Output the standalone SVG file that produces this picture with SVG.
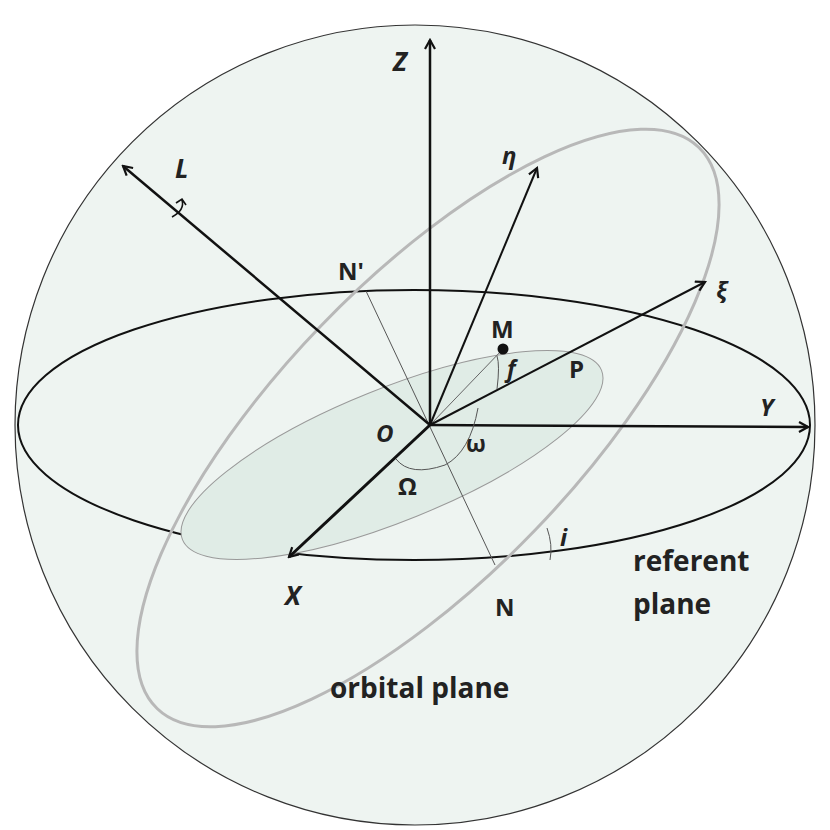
<svg xmlns="http://www.w3.org/2000/svg" width="830" height="830" viewBox="0 0 830 830">
<defs>
<marker id="ah" markerWidth="12" markerHeight="12" refX="10" refY="6" orient="auto" markerUnits="userSpaceOnUse"><path d="M1,1 L10,6 L1,11" fill="none" stroke="#111" stroke-width="2.2"/></marker>
</defs>
<style>
text{font-family:"Open Sans","DejaVu Sans",sans-serif;fill:#222;font-weight:bold}
.it{font-style:italic}
.ax{stroke:#111;fill:none;marker-end:url(#ah)}
.th{stroke:#555;stroke-width:1;fill:none}
</style>
<rect width="830" height="830" fill="#fff"/>
<g id="sphere"><circle cx="415" cy="425" r="400" fill="#eef4f1" stroke="#333" stroke-width="1.2"/></g>
<g id="referent-plane"><ellipse cx="414" cy="425" rx="396" ry="135" fill="none" stroke="#111" stroke-width="2"/></g>
<g id="orbital-plane"><ellipse cx="428" cy="428" rx="390" ry="148" transform="rotate(-46 428 428)" fill="none" stroke="#b8b8b8" stroke-width="3"/></g>
<g id="orbit"><ellipse cx="392" cy="455" rx="226" ry="66" transform="rotate(-22 392 455)" fill="#e0ece6" stroke="#999" stroke-width="1"/></g>
<g id="connectors">
<line class="th" x1="366" y1="291" x2="495" y2="565"/>
<line x1="430" y1="425" x2="503" y2="349" stroke="#666" stroke-width="1"/>
<line class="ax" x1="430" y1="425" x2="430" y2="40" stroke-width="2.5"/>
<line class="ax" x1="430" y1="425" x2="808" y2="427" stroke-width="2.5"/>
<line class="ax" x1="430" y1="425" x2="289" y2="557" stroke-width="3"/>
<line class="ax" x1="430" y1="425" x2="123" y2="166" stroke-width="2.5"/>
<line class="ax" x1="430" y1="425" x2="537" y2="168" stroke-width="2"/>
<line class="ax" x1="430" y1="425" x2="705" y2="282" stroke-width="2"/>
<path d="M172,217 Q185,210 182,200 M176,203 L182,199 L186,205" fill="none" stroke="#111" stroke-width="1.6"/>
<path d="M396,459 Q410,477 445,465 Q470,452 478,408" class="th" stroke="#444"/>
<path d="M497,356 Q500,365 497,389" class="th" stroke="#444"/>
<path d="M547,528 Q553,545 550,560" class="th" stroke="#444"/>
<circle cx="503" cy="349" r="5.5" fill="#111"/>
</g>
<g id="labels">
<text x="393" y="71" font-size="26" class="it">Z</text>
<text x="175" y="178" font-size="26" class="it">L</text>
<text x="502" y="164" font-size="24" class="it">η</text>
<text x="716" y="299" font-size="24" class="it" font-weight="normal">ξ</text>
<text x="338" y="280" font-size="24">N'</text>
<text x="491" y="338" font-size="24">M</text>
<text x="507" y="377" font-size="23" class="it">f</text>
<text x="569" y="378" font-size="24">P</text>
<text x="760" y="416" font-size="24" class="it">Y</text>
<text x="376" y="442" font-size="24" class="it">O</text>
<text x="466" y="452" font-size="23">ω</text>
<text x="398" y="495" font-size="24">Ω</text>
<text x="285" y="605" font-size="26" class="it">X</text>
<text x="495" y="616" font-size="24">N</text>
<text x="560" y="546" font-size="24" class="it" font-family="Liberation Serif">i</text>
<text x="633" y="571" font-size="28">referent</text>
<text x="633" y="614" font-size="28">plane</text>
<text x="330" y="698" font-size="28">orbital plane</text>
</g>
</svg>
